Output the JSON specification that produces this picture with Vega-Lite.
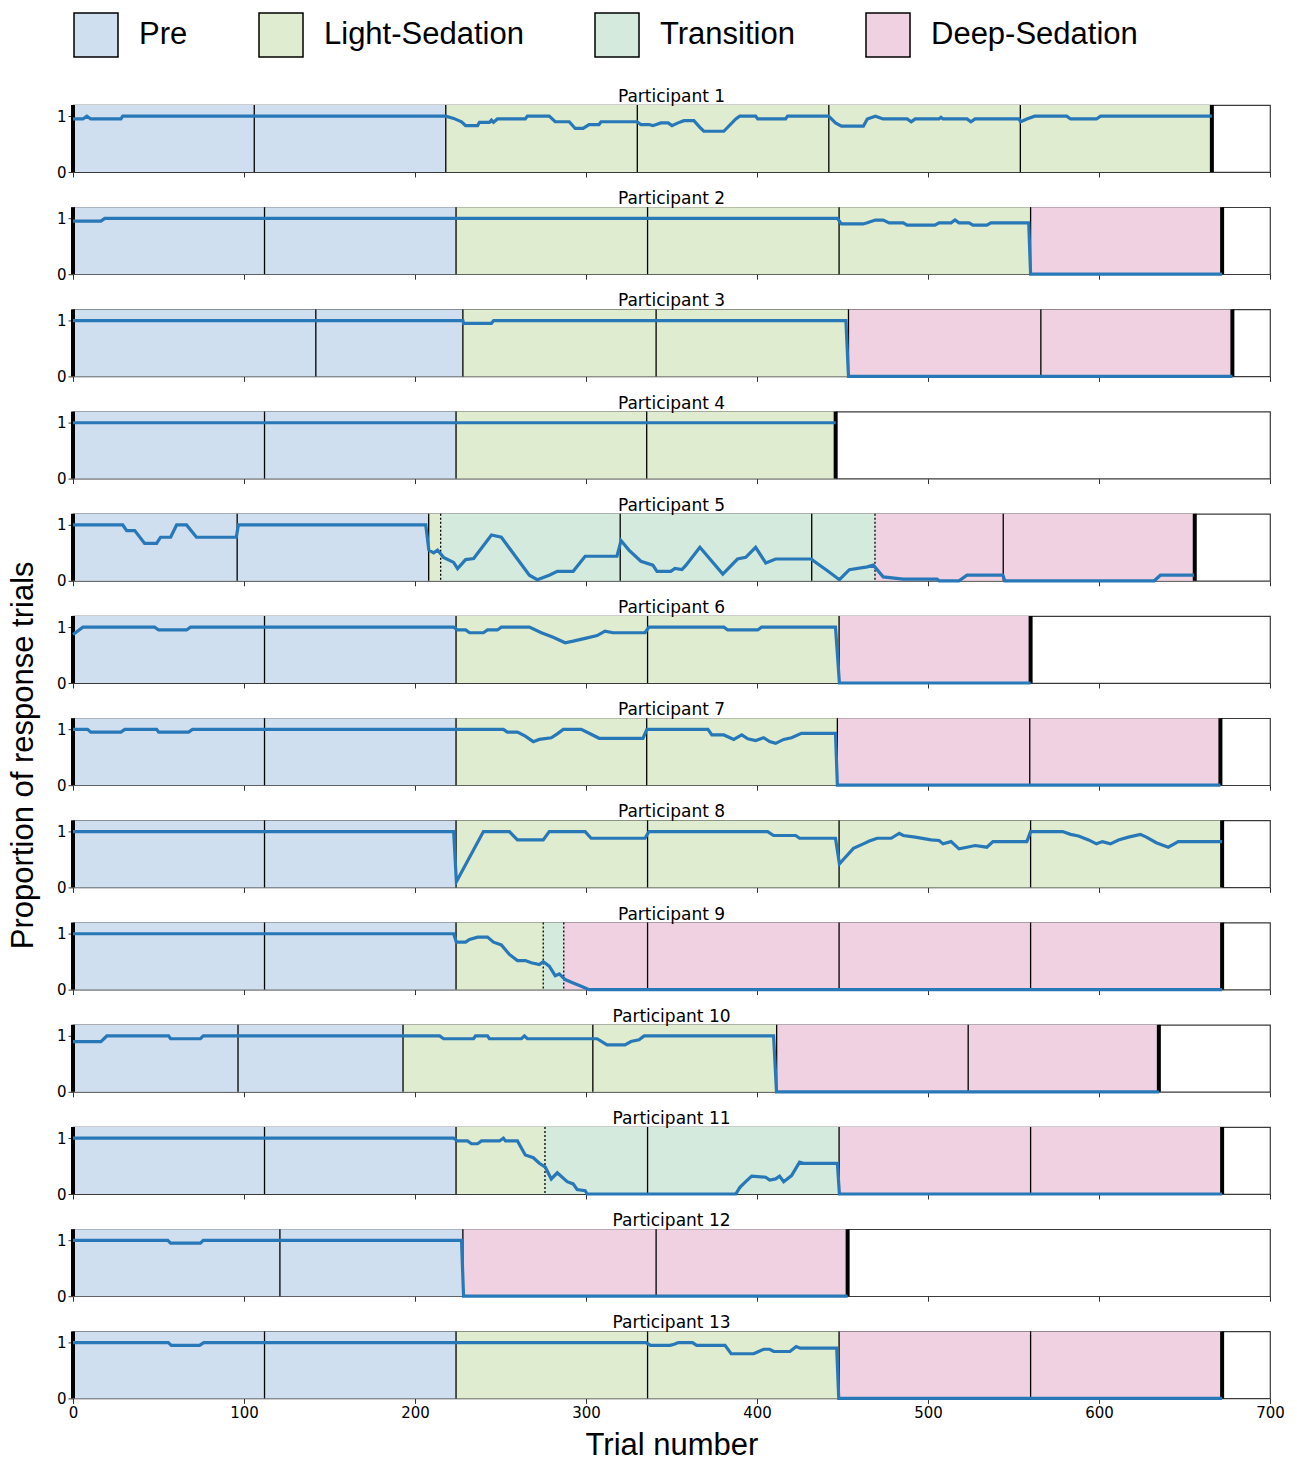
{
"$schema": "https://vega.github.io/schema/vega-lite/v6.json",
"padding": {"left": 6, "top": 12, "right": 10, "bottom": 2},
"spacing": 35.2,
"bounds": "flush",
"data": {"values": [
{"p":1,"x":0,"e":218,"ph":"Pre"},{"p":1,"x":218,"e":666,"ph":"Light-Sedation"},
{"p":2,"x":0,"e":224,"ph":"Pre"},{"p":2,"x":224,"e":560,"ph":"Light-Sedation"},{"p":2,"x":560,"e":672,"ph":"Deep-Sedation"},
{"p":3,"x":0,"e":228,"ph":"Pre"},{"p":3,"x":228,"e":453.5,"ph":"Light-Sedation"},{"p":3,"x":453.5,"e":678,"ph":"Deep-Sedation"},
{"p":4,"x":0,"e":224,"ph":"Pre"},{"p":4,"x":224,"e":446,"ph":"Light-Sedation"},
{"p":5,"x":0,"e":208,"ph":"Pre"},{"p":5,"x":208,"e":215,"ph":"Light-Sedation"},{"p":5,"x":215,"e":469,"ph":"Transition"},{"p":5,"x":469,"e":656,"ph":"Deep-Sedation"},
{"p":6,"x":0,"e":224,"ph":"Pre"},{"p":6,"x":224,"e":448,"ph":"Light-Sedation"},{"p":6,"x":448,"e":560,"ph":"Deep-Sedation"},
{"p":7,"x":0,"e":224,"ph":"Pre"},{"p":7,"x":224,"e":447,"ph":"Light-Sedation"},{"p":7,"x":447,"e":671,"ph":"Deep-Sedation"},
{"p":8,"x":0,"e":224,"ph":"Pre"},{"p":8,"x":224,"e":672,"ph":"Light-Sedation"},
{"p":9,"x":0,"e":224,"ph":"Pre"},{"p":9,"x":224,"e":275,"ph":"Light-Sedation"},{"p":9,"x":275,"e":287,"ph":"Transition"},{"p":9,"x":287,"e":672,"ph":"Deep-Sedation"},
{"p":10,"x":0,"e":193,"ph":"Pre"},{"p":10,"x":193,"e":411.5,"ph":"Light-Sedation"},{"p":10,"x":411.5,"e":635,"ph":"Deep-Sedation"},
{"p":11,"x":0,"e":224,"ph":"Pre"},{"p":11,"x":224,"e":276,"ph":"Light-Sedation"},{"p":11,"x":276,"e":448,"ph":"Transition"},{"p":11,"x":448,"e":672,"ph":"Deep-Sedation"},
{"p":12,"x":0,"e":228,"ph":"Pre"},{"p":12,"x":228,"e":453,"ph":"Deep-Sedation"},
{"p":13,"x":0,"e":224,"ph":"Pre"},{"p":13,"x":224,"e":448,"ph":"Light-Sedation"},{"p":13,"x":448,"e":672,"ph":"Deep-Sedation"},
{"p":1,"k":"b","x":106},{"p":1,"k":"b","x":218},{"p":1,"k":"b","x":330},{"p":1,"k":"b","x":442},{"p":1,"k":"b","x":554},{"p":1,"k":"t","x":0},{"p":1,"k":"t","x":666},
{"p":2,"k":"b","x":112},{"p":2,"k":"b","x":224},{"p":2,"k":"b","x":336},{"p":2,"k":"b","x":448},{"p":2,"k":"b","x":560},{"p":2,"k":"t","x":0},{"p":2,"k":"t","x":672},
{"p":3,"k":"b","x":142},{"p":3,"k":"b","x":228},{"p":3,"k":"b","x":341},{"p":3,"k":"b","x":453.5},{"p":3,"k":"b","x":566},{"p":3,"k":"t","x":0},{"p":3,"k":"t","x":678},
{"p":4,"k":"b","x":112},{"p":4,"k":"b","x":224},{"p":4,"k":"b","x":335.5},{"p":4,"k":"t","x":0},{"p":4,"k":"t","x":446},
{"p":5,"k":"b","x":96},{"p":5,"k":"b","x":208},{"p":5,"k":"b","x":320},{"p":5,"k":"b","x":432},{"p":5,"k":"b","x":544},{"p":5,"k":"d","x":215},{"p":5,"k":"d","x":469},{"p":5,"k":"t","x":0},{"p":5,"k":"t","x":656},
{"p":6,"k":"b","x":112},{"p":6,"k":"b","x":224},{"p":6,"k":"b","x":336},{"p":6,"k":"b","x":448},{"p":6,"k":"t","x":0},{"p":6,"k":"t","x":560},
{"p":7,"k":"b","x":112},{"p":7,"k":"b","x":224},{"p":7,"k":"b","x":335.5},{"p":7,"k":"b","x":447},{"p":7,"k":"b","x":559.5},{"p":7,"k":"t","x":0},{"p":7,"k":"t","x":671},
{"p":8,"k":"b","x":112},{"p":8,"k":"b","x":224},{"p":8,"k":"b","x":336},{"p":8,"k":"b","x":448},{"p":8,"k":"b","x":560},{"p":8,"k":"t","x":0},{"p":8,"k":"t","x":672},
{"p":9,"k":"b","x":112},{"p":9,"k":"b","x":224},{"p":9,"k":"b","x":336},{"p":9,"k":"b","x":448},{"p":9,"k":"b","x":560},{"p":9,"k":"d","x":275},{"p":9,"k":"d","x":287},{"p":9,"k":"t","x":0},{"p":9,"k":"t","x":672},
{"p":10,"k":"b","x":96.5},{"p":10,"k":"b","x":193},{"p":10,"k":"b","x":304},{"p":10,"k":"b","x":411.5},{"p":10,"k":"b","x":523.5},{"p":10,"k":"t","x":0},{"p":10,"k":"t","x":635},
{"p":11,"k":"b","x":112},{"p":11,"k":"b","x":224},{"p":11,"k":"b","x":336},{"p":11,"k":"b","x":448},{"p":11,"k":"b","x":560},{"p":11,"k":"d","x":276},{"p":11,"k":"t","x":0},{"p":11,"k":"t","x":672},
{"p":12,"k":"b","x":121},{"p":12,"k":"b","x":228},{"p":12,"k":"b","x":341},{"p":12,"k":"t","x":0},{"p":12,"k":"t","x":453},
{"p":13,"k":"b","x":112},{"p":13,"k":"b","x":224},{"p":13,"k":"b","x":336},{"p":13,"k":"b","x":448},{"p":13,"k":"b","x":560},{"p":13,"k":"t","x":0},{"p":13,"k":"t","x":672},
{"p":1,"x":0,"y":0.95},{"p":1,"x":5.8,"y":0.95},{"p":1,"x":8.1,"y":1},{"p":1,"x":10.4,"y":0.95},{"p":1,"x":28,"y":0.95},{"p":1,"x":29.1,"y":1},{"p":1,"x":218,"y":1},{"p":1,"x":222.6,"y":0.96},{"p":1,"x":227.2,"y":0.9},{"p":1,"x":229.6,"y":0.83},{"p":1,"x":236.6,"y":0.83},{"p":1,"x":237.7,"y":0.89},{"p":1,"x":243.5,"y":0.89},{"p":1,"x":244.7,"y":0.93},{"p":1,"x":245.9,"y":0.89},{"p":1,"x":248.2,"y":0.95},{"p":1,"x":264.5,"y":0.95},{"p":1,"x":265.7,"y":1},{"p":1,"x":278.5,"y":1},{"p":1,"x":282,"y":0.9},{"p":1,"x":290.2,"y":0.9},{"p":1,"x":293.7,"y":0.78},{"p":1,"x":298.3,"y":0.78},{"p":1,"x":301.8,"y":0.85},{"p":1,"x":307.6,"y":0.85},{"p":1,"x":308.8,"y":0.9},{"p":1,"x":329.8,"y":0.9},{"p":1,"x":332.1,"y":0.85},{"p":1,"x":336.8,"y":0.85},{"p":1,"x":339.1,"y":0.83},{"p":1,"x":343.8,"y":0.88},{"p":1,"x":348,"y":0.88},{"p":1,"x":350.3,"y":0.83},{"p":1,"x":353.8,"y":0.88},{"p":1,"x":357.3,"y":0.92},{"p":1,"x":363.1,"y":0.92},{"p":1,"x":366.6,"y":0.8},{"p":1,"x":368.9,"y":0.73},{"p":1,"x":380.6,"y":0.73},{"p":1,"x":387.6,"y":0.95},{"p":1,"x":389.9,"y":1},{"p":1,"x":399.2,"y":1},{"p":1,"x":400.4,"y":0.95},{"p":1,"x":416.7,"y":0.95},{"p":1,"x":417.9,"y":1},{"p":1,"x":441.9,"y":1},{"p":1,"x":445.9,"y":0.88},{"p":1,"x":449.4,"y":0.82},{"p":1,"x":462.2,"y":0.82},{"p":1,"x":464.5,"y":0.95},{"p":1,"x":469.2,"y":1},{"p":1,"x":473.8,"y":0.95},{"p":1,"x":487.8,"y":0.95},{"p":1,"x":490.2,"y":0.9},{"p":1,"x":492.5,"y":0.95},{"p":1,"x":506.5,"y":0.95},{"p":1,"x":507.6,"y":0.98},{"p":1,"x":508.8,"y":0.95},{"p":1,"x":522.8,"y":0.95},{"p":1,"x":525.1,"y":0.9},{"p":1,"x":527.5,"y":0.95},{"p":1,"x":553.1,"y":0.95},{"p":1,"x":554.2,"y":0.9},{"p":1,"x":557.8,"y":0.95},{"p":1,"x":562.4,"y":1},{"p":1,"x":581.1,"y":1},{"p":1,"x":583.4,"y":0.95},{"p":1,"x":598.5,"y":0.95},{"p":1,"x":600.9,"y":1},{"p":1,"x":666,"y":1},
{"p":2,"x":0,"y":0.95},{"p":2,"x":16.3,"y":0.95},{"p":2,"x":18.6,"y":1},{"p":2,"x":447,"y":1},{"p":2,"x":449.4,"y":0.9},{"p":2,"x":462,"y":0.9},{"p":2,"x":464.5,"y":0.92},{"p":2,"x":469.2,"y":0.97},{"p":2,"x":473.8,"y":0.97},{"p":2,"x":477.3,"y":0.92},{"p":2,"x":485.5,"y":0.92},{"p":2,"x":487.8,"y":0.88},{"p":2,"x":504,"y":0.88},{"p":2,"x":506.5,"y":0.92},{"p":2,"x":513.5,"y":0.92},{"p":2,"x":515.8,"y":0.97},{"p":2,"x":518.1,"y":0.92},{"p":2,"x":524,"y":0.92},{"p":2,"x":526.3,"y":0.88},{"p":2,"x":534.4,"y":0.88},{"p":2,"x":536.8,"y":0.92},{"p":2,"x":558.9,"y":0.92},{"p":2,"x":560,"y":0},{"p":2,"x":672,"y":0},
{"p":3,"x":0,"y":1},{"p":3,"x":228,"y":1},{"p":3,"x":228.4,"y":0.95},{"p":3,"x":244.7,"y":0.95},{"p":3,"x":246,"y":1},{"p":3,"x":452,"y":1},{"p":3,"x":453.5,"y":0},{"p":3,"x":678,"y":0},
{"p":4,"x":0,"y":1},{"p":4,"x":446,"y":1},
{"p":5,"x":0,"y":1},{"p":5,"x":29.1,"y":1},{"p":5,"x":31.4,"y":0.9},{"p":5,"x":36.1,"y":0.9},{"p":5,"x":41.9,"y":0.67},{"p":5,"x":48.9,"y":0.67},{"p":5,"x":51.2,"y":0.78},{"p":5,"x":57.1,"y":0.78},{"p":5,"x":60.6,"y":1},{"p":5,"x":66.4,"y":1},{"p":5,"x":72.2,"y":0.78},{"p":5,"x":95.5,"y":0.78},{"p":5,"x":96.7,"y":1},{"p":5,"x":206.3,"y":1},{"p":5,"x":208.1,"y":0.55},{"p":5,"x":210.9,"y":0.5},{"p":5,"x":213.2,"y":0.55},{"p":5,"x":216.7,"y":0.42},{"p":5,"x":222.6,"y":0.33},{"p":5,"x":224.9,"y":0.22},{"p":5,"x":229.6,"y":0.38},{"p":5,"x":234.3,"y":0.4},{"p":5,"x":244.7,"y":0.82},{"p":5,"x":250.5,"y":0.78},{"p":5,"x":266.9,"y":0.1},{"p":5,"x":271.5,"y":0.02},{"p":5,"x":278.5,"y":0.1},{"p":5,"x":283.2,"y":0.17},{"p":5,"x":292.5,"y":0.17},{"p":5,"x":299.5,"y":0.44},{"p":5,"x":318.1,"y":0.44},{"p":5,"x":320.5,"y":0.72},{"p":5,"x":325.1,"y":0.55},{"p":5,"x":332.1,"y":0.35},{"p":5,"x":339.1,"y":0.28},{"p":5,"x":341.5,"y":0.17},{"p":5,"x":349.6,"y":0.17},{"p":5,"x":352,"y":0.22},{"p":5,"x":356.1,"y":0.2},{"p":5,"x":358.5,"y":0.28},{"p":5,"x":366.6,"y":0.6},{"p":5,"x":380,"y":0.12},{"p":5,"x":388.6,"y":0.39},{"p":5,"x":393.4,"y":0.42},{"p":5,"x":399.2,"y":0.6},{"p":5,"x":405.1,"y":0.32},{"p":5,"x":410.9,"y":0.39},{"p":5,"x":431.9,"y":0.39},{"p":5,"x":433,"y":0.36},{"p":5,"x":441.2,"y":0.18},{"p":5,"x":448.2,"y":0.02},{"p":5,"x":454,"y":0.2},{"p":5,"x":464.5,"y":0.25},{"p":5,"x":468,"y":0.28},{"p":5,"x":473.8,"y":0.07},{"p":5,"x":485.5,"y":0.03},{"p":5,"x":505.3,"y":0.03},{"p":5,"x":506.5,"y":0},{"p":5,"x":518.1,"y":0},{"p":5,"x":522.8,"y":0.1},{"p":5,"x":543.8,"y":0.1},{"p":5,"x":544.9,"y":0},{"p":5,"x":632.3,"y":0},{"p":5,"x":635.9,"y":0.1},{"p":5,"x":655.6,"y":0.1},
{"p":6,"x":0,"y":0.87},{"p":6,"x":5.8,"y":1},{"p":6,"x":47.7,"y":1},{"p":6,"x":50.1,"y":0.95},{"p":6,"x":66.4,"y":0.95},{"p":6,"x":68.7,"y":1},{"p":6,"x":222.6,"y":1},{"p":6,"x":224.9,"y":0.95},{"p":6,"x":229.6,"y":0.95},{"p":6,"x":231.9,"y":0.9},{"p":6,"x":240,"y":0.9},{"p":6,"x":242.4,"y":0.95},{"p":6,"x":248.2,"y":0.95},{"p":6,"x":250.5,"y":1},{"p":6,"x":266.9,"y":1},{"p":6,"x":273.9,"y":0.9},{"p":6,"x":280.8,"y":0.82},{"p":6,"x":287.8,"y":0.72},{"p":6,"x":292.5,"y":0.75},{"p":6,"x":299.5,"y":0.8},{"p":6,"x":306.5,"y":0.85},{"p":6,"x":311.1,"y":0.93},{"p":6,"x":315.8,"y":0.9},{"p":6,"x":334.5,"y":0.9},{"p":6,"x":336.8,"y":1},{"p":6,"x":380.6,"y":1},{"p":6,"x":382.9,"y":0.95},{"p":6,"x":400.4,"y":0.95},{"p":6,"x":402.7,"y":1},{"p":6,"x":445.9,"y":1},{"p":6,"x":448.2,"y":0},{"p":6,"x":560,"y":0},
{"p":7,"x":0,"y":1},{"p":7,"x":8.5,"y":1},{"p":7,"x":10.4,"y":0.95},{"p":7,"x":28,"y":0.95},{"p":7,"x":30.3,"y":1},{"p":7,"x":48.9,"y":1},{"p":7,"x":50.1,"y":0.95},{"p":7,"x":67.6,"y":0.95},{"p":7,"x":69.9,"y":1},{"p":7,"x":251.7,"y":1},{"p":7,"x":254,"y":0.95},{"p":7,"x":259.9,"y":0.95},{"p":7,"x":264.5,"y":0.88},{"p":7,"x":269.2,"y":0.78},{"p":7,"x":272.7,"y":0.82},{"p":7,"x":279.7,"y":0.85},{"p":7,"x":283.2,"y":0.92},{"p":7,"x":286.7,"y":1},{"p":7,"x":297.2,"y":1},{"p":7,"x":301.8,"y":0.93},{"p":7,"x":307.7,"y":0.84},{"p":7,"x":333.3,"y":0.84},{"p":7,"x":335.6,"y":1},{"p":7,"x":371.3,"y":1},{"p":7,"x":373.6,"y":0.9},{"p":7,"x":380.6,"y":0.9},{"p":7,"x":386.4,"y":0.82},{"p":7,"x":391.1,"y":0.9},{"p":7,"x":394.6,"y":0.83},{"p":7,"x":399.2,"y":0.8},{"p":7,"x":403.9,"y":0.85},{"p":7,"x":407.4,"y":0.78},{"p":7,"x":410.9,"y":0.75},{"p":7,"x":415.6,"y":0.82},{"p":7,"x":420.2,"y":0.85},{"p":7,"x":426,"y":0.93},{"p":7,"x":445.9,"y":0.93},{"p":7,"x":447,"y":0},{"p":7,"x":671,"y":0},
{"p":8,"x":0,"y":1},{"p":8,"x":222.6,"y":1},{"p":8,"x":224.2,"y":0.1},{"p":8,"x":240,"y":1},{"p":8,"x":255.2,"y":1},{"p":8,"x":259.9,"y":0.85},{"p":8,"x":275,"y":0.85},{"p":8,"x":278.5,"y":1},{"p":8,"x":299.5,"y":1},{"p":8,"x":303,"y":0.88},{"p":8,"x":334.5,"y":0.88},{"p":8,"x":336.8,"y":1},{"p":8,"x":406.2,"y":1},{"p":8,"x":409.7,"y":0.93},{"p":8,"x":422.6,"y":0.93},{"p":8,"x":424.9,"y":0.88},{"p":8,"x":445.9,"y":0.88},{"p":8,"x":448.2,"y":0.42},{"p":8,"x":450.5,"y":0.5},{"p":8,"x":456.4,"y":0.7},{"p":8,"x":462.2,"y":0.78},{"p":8,"x":465.7,"y":0.83},{"p":8,"x":470.3,"y":0.88},{"p":8,"x":478.5,"y":0.88},{"p":8,"x":483.2,"y":0.97},{"p":8,"x":485.5,"y":0.93},{"p":8,"x":492.5,"y":0.9},{"p":8,"x":501.8,"y":0.85},{"p":8,"x":506.5,"y":0.84},{"p":8,"x":508.8,"y":0.78},{"p":8,"x":513.5,"y":0.82},{"p":8,"x":518.1,"y":0.69},{"p":8,"x":522.8,"y":0.72},{"p":8,"x":527.5,"y":0.75},{"p":8,"x":534.4,"y":0.72},{"p":8,"x":538,"y":0.82},{"p":8,"x":557.8,"y":0.82},{"p":8,"x":560,"y":1},{"p":8,"x":578.7,"y":1},{"p":8,"x":583.4,"y":0.95},{"p":8,"x":588,"y":0.92},{"p":8,"x":593.9,"y":0.85},{"p":8,"x":598.5,"y":0.78},{"p":8,"x":602,"y":0.82},{"p":8,"x":606.7,"y":0.78},{"p":8,"x":611.4,"y":0.85},{"p":8,"x":617.2,"y":0.9},{"p":8,"x":624.2,"y":0.95},{"p":8,"x":627.7,"y":0.9},{"p":8,"x":633.5,"y":0.8},{"p":8,"x":640.5,"y":0.72},{"p":8,"x":644,"y":0.78},{"p":8,"x":646.3,"y":0.82},{"p":8,"x":672,"y":0.82},
{"p":9,"x":0,"y":1},{"p":9,"x":222.6,"y":1},{"p":9,"x":224.2,"y":0.85},{"p":9,"x":229.6,"y":0.85},{"p":9,"x":231.9,"y":0.9},{"p":9,"x":236.6,"y":0.94},{"p":9,"x":242.4,"y":0.94},{"p":9,"x":245.9,"y":0.85},{"p":9,"x":250.5,"y":0.8},{"p":9,"x":255.2,"y":0.63},{"p":9,"x":259.9,"y":0.52},{"p":9,"x":264.5,"y":0.52},{"p":9,"x":268,"y":0.48},{"p":9,"x":272.7,"y":0.45},{"p":9,"x":275,"y":0.5},{"p":9,"x":278.5,"y":0.42},{"p":9,"x":282,"y":0.25},{"p":9,"x":284.4,"y":0.28},{"p":9,"x":287.8,"y":0.18},{"p":9,"x":292.5,"y":0.12},{"p":9,"x":297.2,"y":0.06},{"p":9,"x":301.8,"y":0},{"p":9,"x":672,"y":0},
{"p":10,"x":0,"y":0.9},{"p":10,"x":16.3,"y":0.9},{"p":10,"x":19.8,"y":1},{"p":10,"x":55.9,"y":1},{"p":10,"x":57.1,"y":0.95},{"p":10,"x":74.5,"y":0.95},{"p":10,"x":76.2,"y":1},{"p":10,"x":214.4,"y":1},{"p":10,"x":216.7,"y":0.95},{"p":10,"x":234.2,"y":0.95},{"p":10,"x":235.4,"y":1},{"p":10,"x":242.4,"y":1},{"p":10,"x":243.5,"y":0.95},{"p":10,"x":262.2,"y":0.95},{"p":10,"x":264,"y":1},{"p":10,"x":265.7,"y":0.95},{"p":10,"x":306.5,"y":0.95},{"p":10,"x":312.3,"y":0.84},{"p":10,"x":322.8,"y":0.84},{"p":10,"x":326.3,"y":0.9},{"p":10,"x":331,"y":0.93},{"p":10,"x":334,"y":1},{"p":10,"x":409.7,"y":1},{"p":10,"x":411.4,"y":0},{"p":10,"x":635,"y":0},
{"p":11,"x":0,"y":1},{"p":11,"x":222.6,"y":1},{"p":11,"x":224.9,"y":0.95},{"p":11,"x":230.7,"y":0.95},{"p":11,"x":233,"y":0.9},{"p":11,"x":236.6,"y":0.9},{"p":11,"x":238.9,"y":0.95},{"p":11,"x":249.4,"y":0.95},{"p":11,"x":251.7,"y":1},{"p":11,"x":252.9,"y":0.95},{"p":11,"x":259.9,"y":0.95},{"p":11,"x":264.5,"y":0.7},{"p":11,"x":269.2,"y":0.65},{"p":11,"x":272.7,"y":0.55},{"p":11,"x":276.2,"y":0.48},{"p":11,"x":279.7,"y":0.27},{"p":11,"x":283.2,"y":0.38},{"p":11,"x":289,"y":0.22},{"p":11,"x":292.5,"y":0.18},{"p":11,"x":294.8,"y":0.08},{"p":11,"x":299.5,"y":0.06},{"p":11,"x":300.7,"y":0},{"p":11,"x":387.6,"y":0},{"p":11,"x":390,"y":0.12},{"p":11,"x":393.4,"y":0.22},{"p":11,"x":396.9,"y":0.32},{"p":11,"x":405.1,"y":0.3},{"p":11,"x":407.4,"y":0.25},{"p":11,"x":410.9,"y":0.27},{"p":11,"x":413.2,"y":0.32},{"p":11,"x":415.6,"y":0.22},{"p":11,"x":420.2,"y":0.33},{"p":11,"x":424.9,"y":0.57},{"p":11,"x":427.2,"y":0.55},{"p":11,"x":447,"y":0.55},{"p":11,"x":448.2,"y":0},{"p":11,"x":672,"y":0},
{"p":12,"x":0,"y":1},{"p":12,"x":55.4,"y":1},{"p":12,"x":57.1,"y":0.95},{"p":12,"x":74.5,"y":0.95},{"p":12,"x":76.2,"y":1},{"p":12,"x":227.2,"y":1},{"p":12,"x":228.4,"y":0},{"p":12,"x":453,"y":0},
{"p":13,"x":0,"y":1},{"p":13,"x":55.7,"y":1},{"p":13,"x":57.5,"y":0.95},{"p":13,"x":74,"y":0.95},{"p":13,"x":76.5,"y":1},{"p":13,"x":335.2,"y":1},{"p":13,"x":337.7,"y":0.95},{"p":13,"x":349.1,"y":0.95},{"p":13,"x":351.6,"y":0.97},{"p":13,"x":354,"y":1},{"p":13,"x":362.3,"y":1},{"p":13,"x":364.7,"y":0.95},{"p":13,"x":381.3,"y":0.95},{"p":13,"x":384.9,"y":0.8},{"p":13,"x":398,"y":0.8},{"p":13,"x":400.3,"y":0.83},{"p":13,"x":403.9,"y":0.88},{"p":13,"x":407.4,"y":0.88},{"p":13,"x":409.8,"y":0.84},{"p":13,"x":419.3,"y":0.84},{"p":13,"x":422.9,"y":0.93},{"p":13,"x":425.3,"y":0.9},{"p":13,"x":446.6,"y":0.9},{"p":13,"x":447.8,"y":0},{"p":13,"x":672,"y":0}
]},
"vconcat": [
{"title":"Participant 1","transform":[{"filter":"datum.p==1"}],"width":1197,"height":67,
 "encoding":{"x":{"field":"x","type":"quantitative","scale":{"domain":[0,700],"nice":false,"zero":false},"axis":{"title":null,"labels":false,"values":[0,100,200,300,400,500,600,700]}}},
 "layer":[
  {"transform":[{"filter":"isValid(datum.ph)"}],"mark":{"type":"rect"},"encoding":{"x2":{"field":"e"},"color":{"field":"ph","type":"nominal","scale":{"domain":["Pre","Light-Sedation","Transition","Deep-Sedation"],"range":["#cfdff0","#dfeccf","#d3eadd","#efd1e2"]},"legend":{"title":null,"encode":{"symbols":{"update":{"stroke":{"value":"black"},"strokeWidth":{"value":1.5}}}}}}}},
  {"transform":[{"filter":"datum.k=='b'"}],"mark":{"type":"rule","color":"black","strokeWidth":1.3},"encoding":{}},
  {"transform":[{"filter":"datum.k=='d'"}],"mark":{"type":"rule","color":"black","strokeWidth":1.3,"strokeDash":[2,2]},"encoding":{}},
  {"transform":[{"filter":"datum.k=='t'"}],"mark":{"type":"rule","color":"black","strokeWidth":4},"encoding":{}},
  {"transform":[{"filter":"isValid(datum.y)"}],"mark":{"type":"line","color":"#2878b8","strokeWidth":3.2},"encoding":{"y":{"field":"y","type":"quantitative","scale":{"domain":[0,1.2],"nice":false},"axis":{"title":null,"format":"d","values":[0,1]}}}}
 ]},
{"title":"Participant 2","transform":[{"filter":"datum.p==2"}],"width":1197,"height":67,
 "encoding":{"x":{"field":"x","type":"quantitative","scale":{"domain":[0,700],"nice":false,"zero":false},"axis":{"title":null,"labels":false,"values":[0,100,200,300,400,500,600,700]}}},
 "layer":[
  {"transform":[{"filter":"isValid(datum.ph)"}],"mark":{"type":"rect"},"encoding":{"x2":{"field":"e"},"color":{"field":"ph","type":"nominal","scale":{"domain":["Pre","Light-Sedation","Transition","Deep-Sedation"],"range":["#cfdff0","#dfeccf","#d3eadd","#efd1e2"]},"legend":{"title":null,"encode":{"symbols":{"update":{"stroke":{"value":"black"},"strokeWidth":{"value":1.5}}}}}}}},
  {"transform":[{"filter":"datum.k=='b'"}],"mark":{"type":"rule","color":"black","strokeWidth":1.3},"encoding":{}},
  {"transform":[{"filter":"datum.k=='d'"}],"mark":{"type":"rule","color":"black","strokeWidth":1.3,"strokeDash":[2,2]},"encoding":{}},
  {"transform":[{"filter":"datum.k=='t'"}],"mark":{"type":"rule","color":"black","strokeWidth":4},"encoding":{}},
  {"transform":[{"filter":"isValid(datum.y)"}],"mark":{"type":"line","color":"#2878b8","strokeWidth":3.2},"encoding":{"y":{"field":"y","type":"quantitative","scale":{"domain":[0,1.2],"nice":false},"axis":{"title":null,"format":"d","values":[0,1]}}}}
 ]},
{"title":"Participant 3","transform":[{"filter":"datum.p==3"}],"width":1197,"height":67,
 "encoding":{"x":{"field":"x","type":"quantitative","scale":{"domain":[0,700],"nice":false,"zero":false},"axis":{"title":null,"labels":false,"values":[0,100,200,300,400,500,600,700]}}},
 "layer":[
  {"transform":[{"filter":"isValid(datum.ph)"}],"mark":{"type":"rect"},"encoding":{"x2":{"field":"e"},"color":{"field":"ph","type":"nominal","scale":{"domain":["Pre","Light-Sedation","Transition","Deep-Sedation"],"range":["#cfdff0","#dfeccf","#d3eadd","#efd1e2"]},"legend":{"title":null,"encode":{"symbols":{"update":{"stroke":{"value":"black"},"strokeWidth":{"value":1.5}}}}}}}},
  {"transform":[{"filter":"datum.k=='b'"}],"mark":{"type":"rule","color":"black","strokeWidth":1.3},"encoding":{}},
  {"transform":[{"filter":"datum.k=='d'"}],"mark":{"type":"rule","color":"black","strokeWidth":1.3,"strokeDash":[2,2]},"encoding":{}},
  {"transform":[{"filter":"datum.k=='t'"}],"mark":{"type":"rule","color":"black","strokeWidth":4},"encoding":{}},
  {"transform":[{"filter":"isValid(datum.y)"}],"mark":{"type":"line","color":"#2878b8","strokeWidth":3.2},"encoding":{"y":{"field":"y","type":"quantitative","scale":{"domain":[0,1.2],"nice":false},"axis":{"title":null,"format":"d","values":[0,1]}}}}
 ]},
{"title":"Participant 4","transform":[{"filter":"datum.p==4"}],"width":1197,"height":67,
 "encoding":{"x":{"field":"x","type":"quantitative","scale":{"domain":[0,700],"nice":false,"zero":false},"axis":{"title":null,"labels":false,"values":[0,100,200,300,400,500,600,700]}}},
 "layer":[
  {"transform":[{"filter":"isValid(datum.ph)"}],"mark":{"type":"rect"},"encoding":{"x2":{"field":"e"},"color":{"field":"ph","type":"nominal","scale":{"domain":["Pre","Light-Sedation","Transition","Deep-Sedation"],"range":["#cfdff0","#dfeccf","#d3eadd","#efd1e2"]},"legend":{"title":null,"encode":{"symbols":{"update":{"stroke":{"value":"black"},"strokeWidth":{"value":1.5}}}}}}}},
  {"transform":[{"filter":"datum.k=='b'"}],"mark":{"type":"rule","color":"black","strokeWidth":1.3},"encoding":{}},
  {"transform":[{"filter":"datum.k=='d'"}],"mark":{"type":"rule","color":"black","strokeWidth":1.3,"strokeDash":[2,2]},"encoding":{}},
  {"transform":[{"filter":"datum.k=='t'"}],"mark":{"type":"rule","color":"black","strokeWidth":4},"encoding":{}},
  {"transform":[{"filter":"isValid(datum.y)"}],"mark":{"type":"line","color":"#2878b8","strokeWidth":3.2},"encoding":{"y":{"field":"y","type":"quantitative","scale":{"domain":[0,1.2],"nice":false},"axis":{"title":null,"format":"d","values":[0,1]}}}}
 ]},
{"title":"Participant 5","transform":[{"filter":"datum.p==5"}],"width":1197,"height":67,
 "encoding":{"x":{"field":"x","type":"quantitative","scale":{"domain":[0,700],"nice":false,"zero":false},"axis":{"title":null,"labels":false,"values":[0,100,200,300,400,500,600,700]}}},
 "layer":[
  {"transform":[{"filter":"isValid(datum.ph)"}],"mark":{"type":"rect"},"encoding":{"x2":{"field":"e"},"color":{"field":"ph","type":"nominal","scale":{"domain":["Pre","Light-Sedation","Transition","Deep-Sedation"],"range":["#cfdff0","#dfeccf","#d3eadd","#efd1e2"]},"legend":{"title":null,"encode":{"symbols":{"update":{"stroke":{"value":"black"},"strokeWidth":{"value":1.5}}}}}}}},
  {"transform":[{"filter":"datum.k=='b'"}],"mark":{"type":"rule","color":"black","strokeWidth":1.3},"encoding":{}},
  {"transform":[{"filter":"datum.k=='d'"}],"mark":{"type":"rule","color":"black","strokeWidth":1.3,"strokeDash":[2,2]},"encoding":{}},
  {"transform":[{"filter":"datum.k=='t'"}],"mark":{"type":"rule","color":"black","strokeWidth":4},"encoding":{}},
  {"transform":[{"filter":"isValid(datum.y)"}],"mark":{"type":"line","color":"#2878b8","strokeWidth":3.2},"encoding":{"y":{"field":"y","type":"quantitative","scale":{"domain":[0,1.2],"nice":false},"axis":{"title":"Proportion of response trials","titlePadding":17,"titleY":241,"titleAlign":"center","titleBaseline":"bottom","format":"d","values":[0,1]}}}}
 ]},
{"title":"Participant 6","transform":[{"filter":"datum.p==6"}],"width":1197,"height":67,
 "encoding":{"x":{"field":"x","type":"quantitative","scale":{"domain":[0,700],"nice":false,"zero":false},"axis":{"title":null,"labels":false,"values":[0,100,200,300,400,500,600,700]}}},
 "layer":[
  {"transform":[{"filter":"isValid(datum.ph)"}],"mark":{"type":"rect"},"encoding":{"x2":{"field":"e"},"color":{"field":"ph","type":"nominal","scale":{"domain":["Pre","Light-Sedation","Transition","Deep-Sedation"],"range":["#cfdff0","#dfeccf","#d3eadd","#efd1e2"]},"legend":{"title":null,"encode":{"symbols":{"update":{"stroke":{"value":"black"},"strokeWidth":{"value":1.5}}}}}}}},
  {"transform":[{"filter":"datum.k=='b'"}],"mark":{"type":"rule","color":"black","strokeWidth":1.3},"encoding":{}},
  {"transform":[{"filter":"datum.k=='d'"}],"mark":{"type":"rule","color":"black","strokeWidth":1.3,"strokeDash":[2,2]},"encoding":{}},
  {"transform":[{"filter":"datum.k=='t'"}],"mark":{"type":"rule","color":"black","strokeWidth":4},"encoding":{}},
  {"transform":[{"filter":"isValid(datum.y)"}],"mark":{"type":"line","color":"#2878b8","strokeWidth":3.2},"encoding":{"y":{"field":"y","type":"quantitative","scale":{"domain":[0,1.2],"nice":false},"axis":{"title":null,"format":"d","values":[0,1]}}}}
 ]},
{"title":"Participant 7","transform":[{"filter":"datum.p==7"}],"width":1197,"height":67,
 "encoding":{"x":{"field":"x","type":"quantitative","scale":{"domain":[0,700],"nice":false,"zero":false},"axis":{"title":null,"labels":false,"values":[0,100,200,300,400,500,600,700]}}},
 "layer":[
  {"transform":[{"filter":"isValid(datum.ph)"}],"mark":{"type":"rect"},"encoding":{"x2":{"field":"e"},"color":{"field":"ph","type":"nominal","scale":{"domain":["Pre","Light-Sedation","Transition","Deep-Sedation"],"range":["#cfdff0","#dfeccf","#d3eadd","#efd1e2"]},"legend":{"title":null,"encode":{"symbols":{"update":{"stroke":{"value":"black"},"strokeWidth":{"value":1.5}}}}}}}},
  {"transform":[{"filter":"datum.k=='b'"}],"mark":{"type":"rule","color":"black","strokeWidth":1.3},"encoding":{}},
  {"transform":[{"filter":"datum.k=='d'"}],"mark":{"type":"rule","color":"black","strokeWidth":1.3,"strokeDash":[2,2]},"encoding":{}},
  {"transform":[{"filter":"datum.k=='t'"}],"mark":{"type":"rule","color":"black","strokeWidth":4},"encoding":{}},
  {"transform":[{"filter":"isValid(datum.y)"}],"mark":{"type":"line","color":"#2878b8","strokeWidth":3.2},"encoding":{"y":{"field":"y","type":"quantitative","scale":{"domain":[0,1.2],"nice":false},"axis":{"title":null,"format":"d","values":[0,1]}}}}
 ]},
{"title":"Participant 8","transform":[{"filter":"datum.p==8"}],"width":1197,"height":67,
 "encoding":{"x":{"field":"x","type":"quantitative","scale":{"domain":[0,700],"nice":false,"zero":false},"axis":{"title":null,"labels":false,"values":[0,100,200,300,400,500,600,700]}}},
 "layer":[
  {"transform":[{"filter":"isValid(datum.ph)"}],"mark":{"type":"rect"},"encoding":{"x2":{"field":"e"},"color":{"field":"ph","type":"nominal","scale":{"domain":["Pre","Light-Sedation","Transition","Deep-Sedation"],"range":["#cfdff0","#dfeccf","#d3eadd","#efd1e2"]},"legend":{"title":null,"encode":{"symbols":{"update":{"stroke":{"value":"black"},"strokeWidth":{"value":1.5}}}}}}}},
  {"transform":[{"filter":"datum.k=='b'"}],"mark":{"type":"rule","color":"black","strokeWidth":1.3},"encoding":{}},
  {"transform":[{"filter":"datum.k=='d'"}],"mark":{"type":"rule","color":"black","strokeWidth":1.3,"strokeDash":[2,2]},"encoding":{}},
  {"transform":[{"filter":"datum.k=='t'"}],"mark":{"type":"rule","color":"black","strokeWidth":4},"encoding":{}},
  {"transform":[{"filter":"isValid(datum.y)"}],"mark":{"type":"line","color":"#2878b8","strokeWidth":3.2},"encoding":{"y":{"field":"y","type":"quantitative","scale":{"domain":[0,1.2],"nice":false},"axis":{"title":null,"format":"d","values":[0,1]}}}}
 ]},
{"title":"Participant 9","transform":[{"filter":"datum.p==9"}],"width":1197,"height":67,
 "encoding":{"x":{"field":"x","type":"quantitative","scale":{"domain":[0,700],"nice":false,"zero":false},"axis":{"title":null,"labels":false,"values":[0,100,200,300,400,500,600,700]}}},
 "layer":[
  {"transform":[{"filter":"isValid(datum.ph)"}],"mark":{"type":"rect"},"encoding":{"x2":{"field":"e"},"color":{"field":"ph","type":"nominal","scale":{"domain":["Pre","Light-Sedation","Transition","Deep-Sedation"],"range":["#cfdff0","#dfeccf","#d3eadd","#efd1e2"]},"legend":{"title":null,"encode":{"symbols":{"update":{"stroke":{"value":"black"},"strokeWidth":{"value":1.5}}}}}}}},
  {"transform":[{"filter":"datum.k=='b'"}],"mark":{"type":"rule","color":"black","strokeWidth":1.3},"encoding":{}},
  {"transform":[{"filter":"datum.k=='d'"}],"mark":{"type":"rule","color":"black","strokeWidth":1.3,"strokeDash":[2,2]},"encoding":{}},
  {"transform":[{"filter":"datum.k=='t'"}],"mark":{"type":"rule","color":"black","strokeWidth":4},"encoding":{}},
  {"transform":[{"filter":"isValid(datum.y)"}],"mark":{"type":"line","color":"#2878b8","strokeWidth":3.2},"encoding":{"y":{"field":"y","type":"quantitative","scale":{"domain":[0,1.2],"nice":false},"axis":{"title":null,"format":"d","values":[0,1]}}}}
 ]},
{"title":"Participant 10","transform":[{"filter":"datum.p==10"}],"width":1197,"height":67,
 "encoding":{"x":{"field":"x","type":"quantitative","scale":{"domain":[0,700],"nice":false,"zero":false},"axis":{"title":null,"labels":false,"values":[0,100,200,300,400,500,600,700]}}},
 "layer":[
  {"transform":[{"filter":"isValid(datum.ph)"}],"mark":{"type":"rect"},"encoding":{"x2":{"field":"e"},"color":{"field":"ph","type":"nominal","scale":{"domain":["Pre","Light-Sedation","Transition","Deep-Sedation"],"range":["#cfdff0","#dfeccf","#d3eadd","#efd1e2"]},"legend":{"title":null,"encode":{"symbols":{"update":{"stroke":{"value":"black"},"strokeWidth":{"value":1.5}}}}}}}},
  {"transform":[{"filter":"datum.k=='b'"}],"mark":{"type":"rule","color":"black","strokeWidth":1.3},"encoding":{}},
  {"transform":[{"filter":"datum.k=='d'"}],"mark":{"type":"rule","color":"black","strokeWidth":1.3,"strokeDash":[2,2]},"encoding":{}},
  {"transform":[{"filter":"datum.k=='t'"}],"mark":{"type":"rule","color":"black","strokeWidth":4},"encoding":{}},
  {"transform":[{"filter":"isValid(datum.y)"}],"mark":{"type":"line","color":"#2878b8","strokeWidth":3.2},"encoding":{"y":{"field":"y","type":"quantitative","scale":{"domain":[0,1.2],"nice":false},"axis":{"title":null,"format":"d","values":[0,1]}}}}
 ]},
{"title":"Participant 11","transform":[{"filter":"datum.p==11"}],"width":1197,"height":67,
 "encoding":{"x":{"field":"x","type":"quantitative","scale":{"domain":[0,700],"nice":false,"zero":false},"axis":{"title":null,"labels":false,"values":[0,100,200,300,400,500,600,700]}}},
 "layer":[
  {"transform":[{"filter":"isValid(datum.ph)"}],"mark":{"type":"rect"},"encoding":{"x2":{"field":"e"},"color":{"field":"ph","type":"nominal","scale":{"domain":["Pre","Light-Sedation","Transition","Deep-Sedation"],"range":["#cfdff0","#dfeccf","#d3eadd","#efd1e2"]},"legend":{"title":null,"encode":{"symbols":{"update":{"stroke":{"value":"black"},"strokeWidth":{"value":1.5}}}}}}}},
  {"transform":[{"filter":"datum.k=='b'"}],"mark":{"type":"rule","color":"black","strokeWidth":1.3},"encoding":{}},
  {"transform":[{"filter":"datum.k=='d'"}],"mark":{"type":"rule","color":"black","strokeWidth":1.3,"strokeDash":[2,2]},"encoding":{}},
  {"transform":[{"filter":"datum.k=='t'"}],"mark":{"type":"rule","color":"black","strokeWidth":4},"encoding":{}},
  {"transform":[{"filter":"isValid(datum.y)"}],"mark":{"type":"line","color":"#2878b8","strokeWidth":3.2},"encoding":{"y":{"field":"y","type":"quantitative","scale":{"domain":[0,1.2],"nice":false},"axis":{"title":null,"format":"d","values":[0,1]}}}}
 ]},
{"title":"Participant 12","transform":[{"filter":"datum.p==12"}],"width":1197,"height":67,
 "encoding":{"x":{"field":"x","type":"quantitative","scale":{"domain":[0,700],"nice":false,"zero":false},"axis":{"title":null,"labels":false,"values":[0,100,200,300,400,500,600,700]}}},
 "layer":[
  {"transform":[{"filter":"isValid(datum.ph)"}],"mark":{"type":"rect"},"encoding":{"x2":{"field":"e"},"color":{"field":"ph","type":"nominal","scale":{"domain":["Pre","Light-Sedation","Transition","Deep-Sedation"],"range":["#cfdff0","#dfeccf","#d3eadd","#efd1e2"]},"legend":{"title":null,"encode":{"symbols":{"update":{"stroke":{"value":"black"},"strokeWidth":{"value":1.5}}}}}}}},
  {"transform":[{"filter":"datum.k=='b'"}],"mark":{"type":"rule","color":"black","strokeWidth":1.3},"encoding":{}},
  {"transform":[{"filter":"datum.k=='d'"}],"mark":{"type":"rule","color":"black","strokeWidth":1.3,"strokeDash":[2,2]},"encoding":{}},
  {"transform":[{"filter":"datum.k=='t'"}],"mark":{"type":"rule","color":"black","strokeWidth":4},"encoding":{}},
  {"transform":[{"filter":"isValid(datum.y)"}],"mark":{"type":"line","color":"#2878b8","strokeWidth":3.2},"encoding":{"y":{"field":"y","type":"quantitative","scale":{"domain":[0,1.2],"nice":false},"axis":{"title":null,"format":"d","values":[0,1]}}}}
 ]},
{"title":"Participant 13","transform":[{"filter":"datum.p==13"}],"width":1197,"height":67,
 "encoding":{"x":{"field":"x","type":"quantitative","scale":{"domain":[0,700],"nice":false,"zero":false},"axis":{"title":"Trial number","labels":true,"labelFlush":false,"titlePadding":10,"values":[0,100,200,300,400,500,600,700]}}},
 "layer":[
  {"transform":[{"filter":"isValid(datum.ph)"}],"mark":{"type":"rect"},"encoding":{"x2":{"field":"e"},"color":{"field":"ph","type":"nominal","scale":{"domain":["Pre","Light-Sedation","Transition","Deep-Sedation"],"range":["#cfdff0","#dfeccf","#d3eadd","#efd1e2"]},"legend":{"title":null,"encode":{"symbols":{"update":{"stroke":{"value":"black"},"strokeWidth":{"value":1.5}}}}}}}},
  {"transform":[{"filter":"datum.k=='b'"}],"mark":{"type":"rule","color":"black","strokeWidth":1.3},"encoding":{}},
  {"transform":[{"filter":"datum.k=='d'"}],"mark":{"type":"rule","color":"black","strokeWidth":1.3,"strokeDash":[2,2]},"encoding":{}},
  {"transform":[{"filter":"datum.k=='t'"}],"mark":{"type":"rule","color":"black","strokeWidth":4},"encoding":{}},
  {"transform":[{"filter":"isValid(datum.y)"}],"mark":{"type":"line","color":"#2878b8","strokeWidth":3.2},"encoding":{"y":{"field":"y","type":"quantitative","scale":{"domain":[0,1.2],"nice":false},"axis":{"title":null,"format":"d","values":[0,1]}}}}
 ]}
],
"config": {
 "view": {"stroke": "#3a3a3a", "strokeWidth": 1.2},
 "font": "DejaVu Sans",
 "title": {"font": "DejaVu Sans", "fontSize": 17, "fontWeight": "normal", "anchor": "middle", "offset": -3, "color": "black"},
 "axis": {"grid": false, "domain": false, "tickColor": "#333", "tickSize": 5, "labelFont": "DejaVu Sans", "labelFontSize": 15, "labelColor": "black", "labelPadding": 2, "labelFlush": false, "labelOverlap": false, "titleFont": "Liberation Sans", "titleFontSize": 31, "titleFontWeight": "normal", "titleColor": "black"},
 "legend": {"orient": "none", "legendX": 0, "legendY": -93, "direction": "horizontal", "symbolType": "square", "symbolSize": 1936, "symbolStrokeColor": "black", "symbolStrokeWidth": 1.5, "symbolOpacity": 1, "labelFont": "Liberation Sans", "labelFontSize": 31, "labelColor": "black", "labelOffset": 20, "labelLimit": 600, "columnPadding": 68}
}
}
